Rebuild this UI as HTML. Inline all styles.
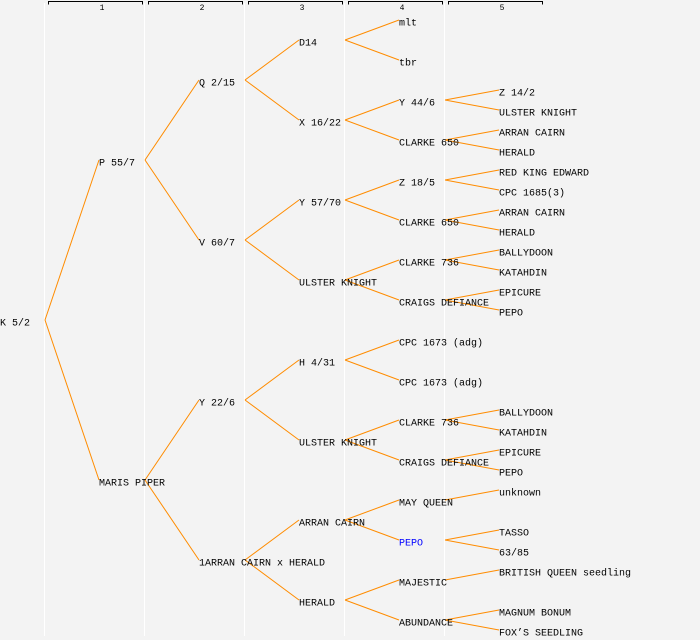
<!DOCTYPE html>
<html><head><meta charset="utf-8"><style>
html,body{margin:0;padding:0;background:#f3f3f3;}
svg{display:block}
text{font-family:"Liberation Mono","DejaVu Sans Mono",monospace;font-size:10px;fill:#000}
</style></head><body>
<svg width="700" height="640" xmlns="http://www.w3.org/2000/svg">
<rect width="700" height="640" fill="#f3f3f3"/>
<g stroke="#fff" stroke-width="1">
<line x1="44.5" y1="3" x2="44.5" y2="636"/>
<line x1="144.5" y1="3" x2="144.5" y2="636"/>
<line x1="244.5" y1="3" x2="244.5" y2="636"/>
<line x1="344.5" y1="3" x2="344.5" y2="636"/>
<line x1="444.5" y1="3" x2="444.5" y2="636"/>
</g>
<g stroke="#000" stroke-width="1" fill="none">
<path d="M48.5 4.5V1.5H142.5V4.5"/>
<path d="M148.5 4.5V1.5H242.5V4.5"/>
<path d="M248.5 4.5V1.5H342.5V4.5"/>
<path d="M348.5 4.5V1.5H442.5V4.5"/>
<path d="M448.5 4.5V1.5H542.5V4.5"/>
</g>
<g text-anchor="middle">
<text x="102" y="10" style="font-size:8px">1</text>
<text x="202" y="10" style="font-size:8px">2</text>
<text x="302" y="10" style="font-size:8px">3</text>
<text x="402" y="10" style="font-size:8px">4</text>
<text x="502" y="10" style="font-size:8px">5</text>
</g>
<g stroke="#ff8c00" stroke-width="1" fill="none">
<path d="M45 320L99 160M45 320L99 480"/>
<path d="M145 160L199 80M145 160L199 240M145 480L199 400M145 480L199 560"/>
<path d="M245 80L299 40M245 80L299 120M245 240L299 200M245 240L299 280M245 400L299 360M245 400L299 440M245 560L299 520M245 560L299 600"/>
<path d="M345 40L399 20M345 40L399 60M345 120L399 100M345 120L399 140M345 200L399 180M345 200L399 220M345 280L399 260M345 280L399 300M345 360L399 340M345 360L399 380M345 440L399 420M345 440L399 460M345 520L399 500M345 520L399 540M345 600L399 580M345 600L399 620"/>
<path d="M445 100L499 90M445 100L499 110M445 140L499 130M445 140L499 150M445 180L499 170M445 180L499 190M445 220L499 210M445 220L499 230M445 260L499 250M445 260L499 270M445 300L499 290M445 300L499 310M445 420L499 410M445 420L499 430M445 460L499 450M445 460L499 470M445 500L499 490M445 540L499 530M445 540L499 550M445 580L499 570M445 620L499 610M445 620L499 630"/>
</g>
<g transform="translate(0,-1.5)">
<text x="0" y="327">K 5/2</text>
<text x="99" y="167">P 55/7</text>
<text x="99" y="487">MARIS PIPER</text>
<text x="199" y="87">Q 2/15</text>
<text x="199" y="247">V 60/7</text>
<text x="199" y="407">Y 22/6</text>
<text x="199" y="567">1ARRAN CAIRN x HERALD</text>
<text x="299" y="47">D14</text>
<text x="299" y="127">X 16/22</text>
<text x="299" y="207">Y 57/70</text>
<text x="299" y="287">ULSTER KNIGHT</text>
<text x="299" y="367">H 4/31</text>
<text x="299" y="447">ULSTER KNIGHT</text>
<text x="299" y="527">ARRAN CAIRN</text>
<text x="299" y="607">HERALD</text>
<text x="399" y="27">mlt</text>
<text x="399" y="67">tbr</text>
<text x="399" y="107">Y 44/6</text>
<text x="399" y="147">CLARKE 650</text>
<text x="399" y="187">Z 18/5</text>
<text x="399" y="227">CLARKE 650</text>
<text x="399" y="267">CLARKE 736</text>
<text x="399" y="307">CRAIGS DEFIANCE</text>
<text x="399" y="347">CPC 1673 (adg)</text>
<text x="399" y="387">CPC 1673 (adg)</text>
<text x="399" y="427">CLARKE 736</text>
<text x="399" y="467">CRAIGS DEFIANCE</text>
<text x="399" y="507">MAY QUEEN</text>
<text x="399" y="547" style="fill:#0000ff">PEPO</text>
<text x="399" y="587">MAJESTIC</text>
<text x="399" y="627">ABUNDANCE</text>
<text x="499" y="97">Z 14/2</text>
<text x="499" y="117">ULSTER KNIGHT</text>
<text x="499" y="137">ARRAN CAIRN</text>
<text x="499" y="157">HERALD</text>
<text x="499" y="177">RED KING EDWARD</text>
<text x="499" y="197">CPC 1685(3)</text>
<text x="499" y="217">ARRAN CAIRN</text>
<text x="499" y="237">HERALD</text>
<text x="499" y="257">BALLYDOON</text>
<text x="499" y="277">KATAHDIN</text>
<text x="499" y="297">EPICURE</text>
<text x="499" y="317">PEPO</text>
<text x="499" y="417">BALLYDOON</text>
<text x="499" y="437">KATAHDIN</text>
<text x="499" y="457">EPICURE</text>
<text x="499" y="477">PEPO</text>
<text x="499" y="497">unknown</text>
<text x="499" y="537">TASSO</text>
<text x="499" y="557">63/85</text>
<text x="499" y="577">BRITISH QUEEN seedling</text>
<text x="499" y="617">MAGNUM BONUM</text>
<text x="499" y="637">FOX’S SEEDLING</text>
</g>
</svg>
</body></html>
